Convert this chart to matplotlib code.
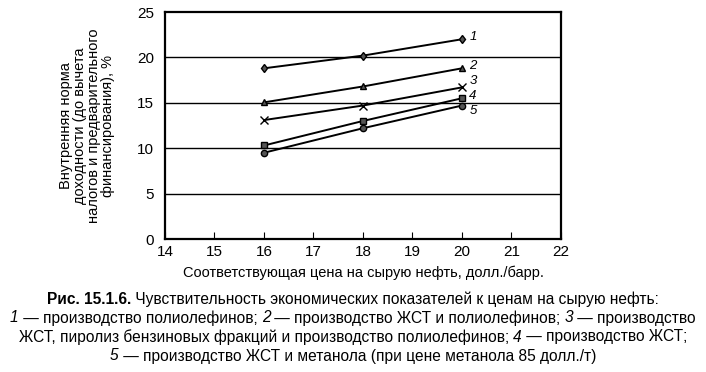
import matplotlib
matplotlib.use('Agg')
import matplotlib.pyplot as plt

# oil price, $/bbl
price = [16, 18, 20]
# internal rate of return, %
s1 = [18.8, 20.2, 22.0]
s2 = [15.05, 16.8, 18.8]
s3 = [13.1, 14.7, 16.7]
s4 = [10.3, 13.0, 15.5]
s5 = [9.5, 12.2, 14.7]
series = [s1, s2, s3, s4, s5]
names = ['1', '2', '3', '4', '5']
markers = ['d', '^', 'x', 's', 'o']

xticks = list(range(14, 23))
yticks = [0, 5, 10, 15, 20, 25]

plt.rcParams['font.family'] = ['Liberation Sans', 'DejaVu Sans']

fig = plt.figure(figsize=(7.06, 3.72), dpi=100)
ax = fig.add_axes([0.2337, 0.3575, 0.5609, 0.6102])

for yv in yticks[1:-1]:
    ax.axhline(yv, color='black', lw=1.0, zorder=1)

for ys, nm, mk in zip(series, names, markers):
    ms = 6 if mk == 'x' else 4.5
    ax.plot(price, ys, color='black', lw=1.4, marker=mk, ms=ms,
            markerfacecolor='#555555', markeredgecolor='black', mew=1.0, zorder=3)

# number labels at line ends (nudged apart, they sit very close in the original)
offs = {'1': 0.2, '2': 0.25, '3': 0.7, '4': 0.25, '5': -0.6}
for ys, nm in zip(series, names):
    ax.text(price[-1] + 0.15, ys[-1] + offs[nm], nm, fontsize=9.5, style='italic',
            ha='left', va='center')

ax.set_xlim(14, 22)
ax.set_ylim(0, 25)
ax.set_xticks(xticks)
ax.set_yticks(yticks)
ax.tick_params(axis='x', direction='in', length=5, labelsize=11, pad=4)
ax.tick_params(axis='y', length=0, labelsize=11, pad=8)
for sp in ax.spines.values():
    sp.set_linewidth(1.6)

ax.set_xlabel('Соответствующая цена на сырую нефть, долл./барр.', fontsize=10.5, labelpad=5)
ax.set_ylabel('Внутренняя норма\nдоходности (до вычета\nналогов и предварительного\nфинансирования), %',
              fontsize=10.5, linespacing=1.0, labelpad=16)

cap = [
    (299, [('Рис. 15.1.6.', 'bold', 'normal'),
           (' Чувствительность экономических показателей к ценам на сырую нефть:', 'normal', 'normal')]),
    (318, [('1', 'normal', 'italic'), (' — производство полиолефинов; ', 'normal', 'normal'),
           ('2', 'normal', 'italic'), (' — производство ЖСТ и полиолефинов; ', 'normal', 'normal'),
           ('3', 'normal', 'italic'), (' — производство', 'normal', 'normal')]),
    (337, [('ЖСТ, пиролиз бензиновых фракций и производство полиолефинов; ', 'normal', 'normal'),
           ('4', 'normal', 'italic'), (' — производство ЖСТ;', 'normal', 'normal')]),
    (356, [('5', 'normal', 'italic'),
           (' — производство ЖСТ и метанола (при цене метанола 85 долл./т)', 'normal', 'normal')]),
]

fig.canvas.draw()
r = fig.canvas.get_renderer()
for ypix, parts in cap:
    y = 1 - ypix / 372
    # measure pieces first so the line can be centred
    tmp = []
    total = 0
    for s, w, st in parts:
        t = fig.text(0, y, s, fontsize=11.2, fontweight=w, style=st,
                     va='center', ha='left')
        bb = t.get_window_extent(r)
        tmp.append((t, bb.width))
        total += bb.width
    x = (706 - total) / 2
    for t, wd in tmp:
        t.set_x(x / 706)
        x += wd

fig.savefig('out.png', dpi=100)
